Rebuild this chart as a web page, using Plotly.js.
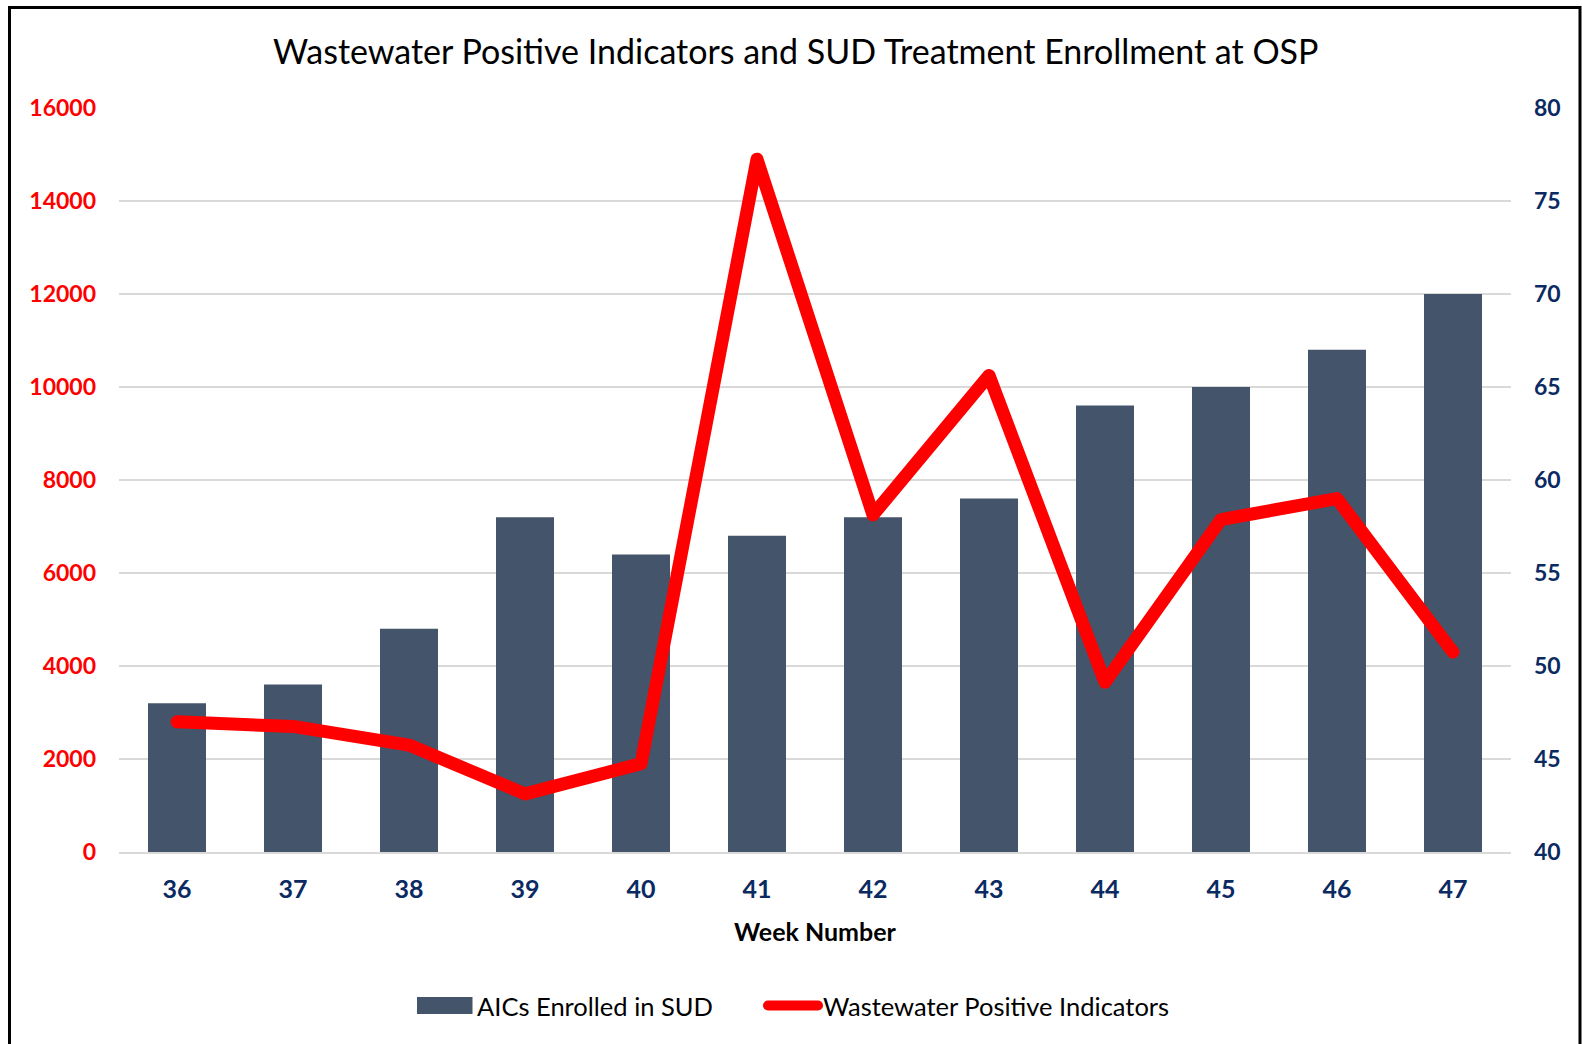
<!DOCTYPE html>
<html>
<head>
<meta charset="utf-8">
<script src="https://cdn.plot.ly/plotly-3.0.1.min.js"></script>
<style>
  html, body { margin: 0; padding: 0; background: #ffffff; }
  #chart { width: 1582px; height: 1044px; }
  .js-line { stroke-linejoin: round !important; stroke-linecap: round !important; }
</style>
</head>
<body>
<div id="chart"></div>
<script>
// Data
const weeks = ['36', '37', '38', '39', '40', '41', '42', '43', '44', '45', '46', '47'];
const aicsEnrolled = [48, 49, 52, 58, 56, 57, 58, 59, 64, 65, 67, 70];
const wastewaterIndicators = [2800, 2700, 2300, 1250, 1900, 14900, 7250, 10250, 3650, 7150, 7600, 4300];

const barName = 'AICs Enrolled in SUD';
const lineName = 'Wastewater Positive Indicators';
const chartTitle = 'Wastewater Positive Indicators and SUD Treatment Enrollment at OSP';
const xTitle = 'Week Number';

const navy = '#0B2A62';
const red = '#FF0000';
const grid = '#D9D9D9';

const traces = [
  {
    type: 'bar',
    name: barName,
    x: weeks,
    y: aicsEnrolled,
    xaxis: 'x',
    yaxis: 'y',
    legend: 'legend',
    marker: { color: '#44546A' },
    hoverinfo: 'x+y'
  },
  {
    type: 'scatter',
    mode: 'lines',
    name: lineName,
    x: weeks,
    y: wastewaterIndicators,
    xaxis: 'x',
    yaxis: 'y2',
    legend: 'legend2',
    line: { color: red, width: 13 },
    hoverinfo: 'x+y'
  }
];

const legendFont = { family: 'Lato, sans-serif', size: 25.5, color: '#000000' };

const layout = {
  width: 1582,
  height: 1044,
  paper_bgcolor: '#ffffff',
  plot_bgcolor: '#ffffff',
  font: { family: 'Lato, "Open Sans", sans-serif', color: '#000000' },
  margin: { l: 119, r: 71, t: 108, b: 192, pad: 0 },
  bargap: 0.5,
  showlegend: true,
  title: {
    text: chartTitle,
    font: { family: 'Lato, sans-serif', size: 34, color: '#000000' },
    xref: 'container', yref: 'container',
    x: 0.503, y: 0.9497, xanchor: 'center', yanchor: 'middle'
  },
  xaxis: {
    type: 'category',
    categoryorder: 'array',
    categoryarray: weeks,
    showgrid: false,
    zeroline: false,
    showline: true,
    linecolor: grid,
    linewidth: 1.5,
    ticks: '',
    ticklabelstandoff: 14,
    tickfont: { family: 'Lato, sans-serif', size: 25, color: navy, weight: 'bold' },
    title: {
      text: xTitle,
      font: { family: 'Lato, sans-serif', size: 25, color: '#000000', weight: 'bold' },
      standoff: 22
    }
  },
  yaxis: {
    side: 'right',
    range: [40, 80],
    dtick: 5,
    tick0: 40,
    showgrid: true,
    gridcolor: grid,
    gridwidth: 1.5,
    zeroline: false,
    showline: false,
    ticks: '',
    ticklabelstandoff: 22,
    tickfont: { family: 'Lato, sans-serif', size: 23, color: navy, weight: 'bold' },
    fixedrange: true
  },
  yaxis2: {
    side: 'left',
    overlaying: 'y',
    range: [0, 16000],
    dtick: 2000,
    tick0: 0,
    tickformat: 'd',
    showgrid: false,
    zeroline: false,
    showline: false,
    ticks: '',
    ticklabelstandoff: 22,
    tickfont: { family: 'Lato, sans-serif', size: 23, color: red, weight: 'bold' },
    fixedrange: true
  },
  legend: {
    orientation: 'h',
    xref: 'container', yref: 'container',
    x: (479 - 62) / 1582, y: 0.0364,
    xanchor: 'left', yanchor: 'middle',
    font: legendFont,
    itemwidth: 50,
    bgcolor: 'rgba(0,0,0,0)'
  },
  legend2: {
    orientation: 'h',
    xref: 'container', yref: 'container',
    x: (825 - 62) / 1582, y: 0.0364,
    xanchor: 'left', yanchor: 'middle',
    font: legendFont,
    itemwidth: 50,
    bgcolor: 'rgba(0,0,0,0)'
  },
  shapes: [
    {
      type: 'rect',
      xref: 'paper', yref: 'paper',
      x0: (9.5 - 119) / 1392, x1: (1580 - 119) / 1392,
      y0: (852 - 1070) / 744, y1: (852 - 7.5) / 744,
      line: { color: '#000000', width: 3 },
      fillcolor: 'rgba(0,0,0,0)',
      layer: 'above'
    }
  ]
};

Plotly.newPlot('chart', traces, layout, { displayModeBar: false, staticPlot: true }).then(function (gd) {
  // widen the bar legend swatch to the wide rectangle used in the reference
  gd.querySelectorAll('.legend .legendpoints path').forEach(function (p) {
    const d = p.getAttribute('d') || '';
    if (d.indexOf('M6,6H-6V-6H6Z') === 0) {
      p.setAttribute('d', 'M25.5,8.5H-30.5V-8.5H25.5Z');
    }
  });
});
</script>
</body>
</html>
